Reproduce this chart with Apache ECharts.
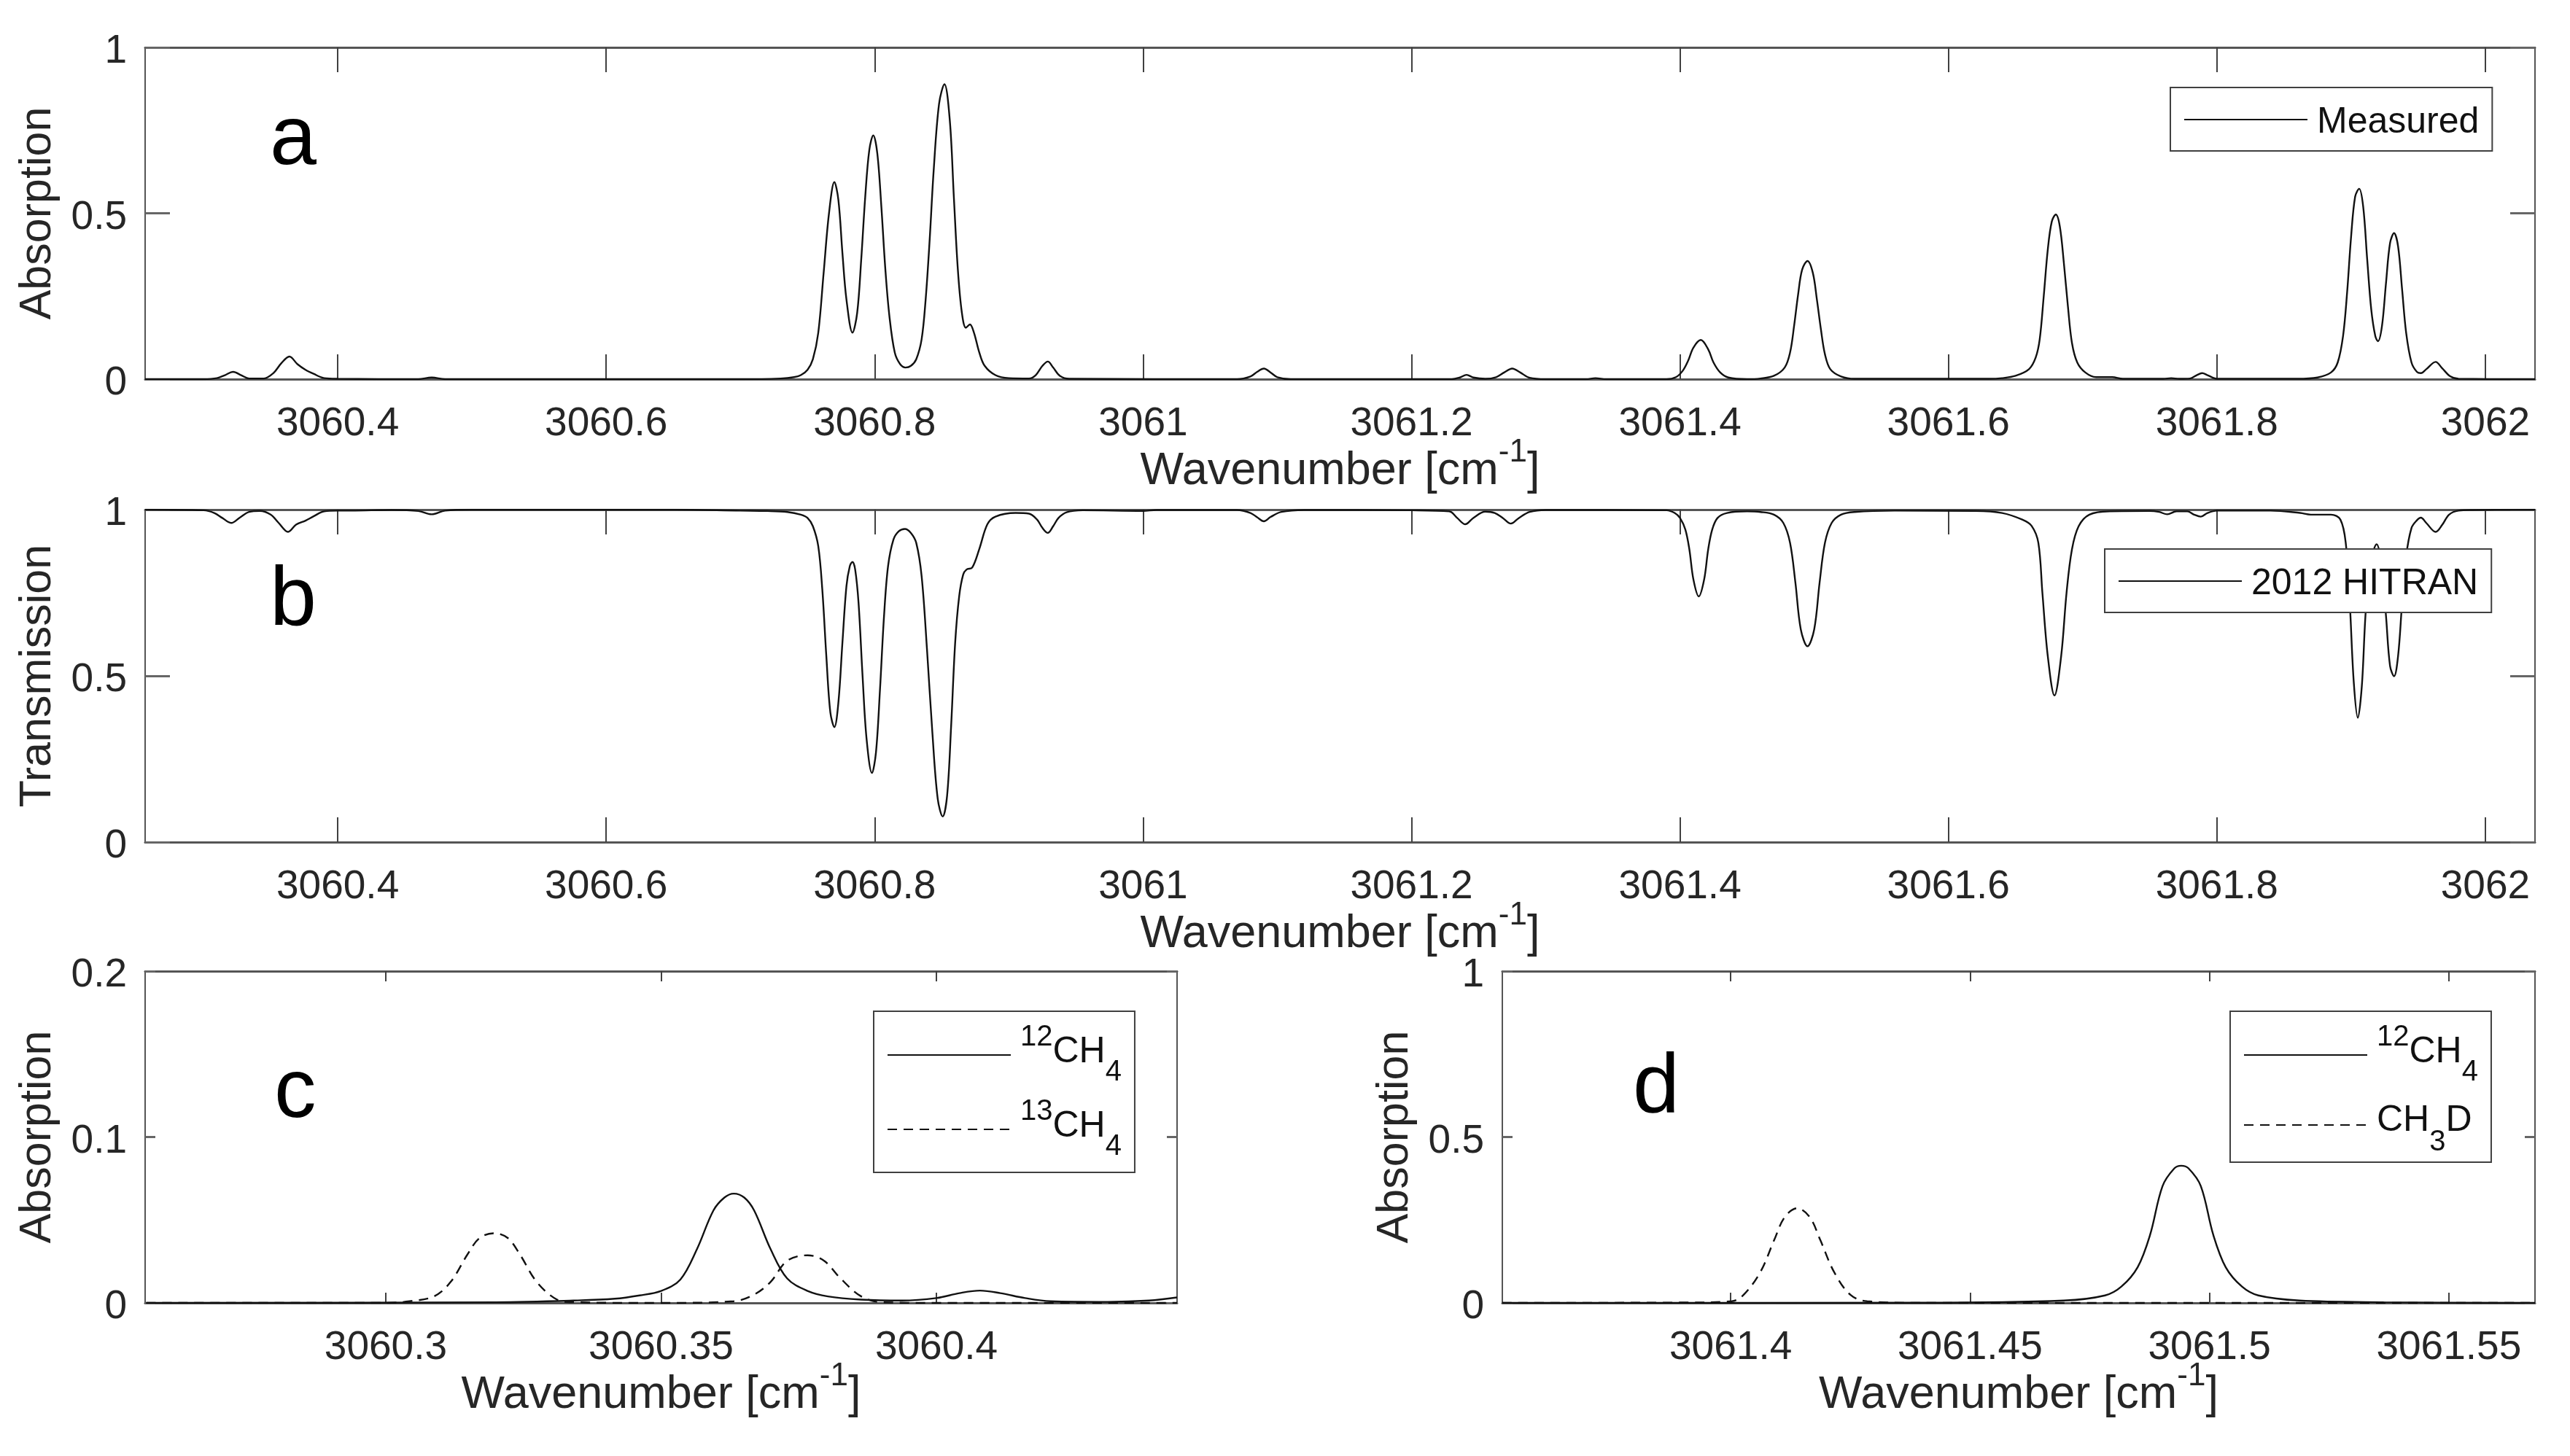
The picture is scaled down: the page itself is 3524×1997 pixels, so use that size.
<!DOCTYPE html>
<html lang="en" style="width: 100%;height:100%">
<head>
<meta charset="UTF-8">
<title>Methane spectra</title>
<script src="https://cdn.jsdelivr.net/npm/echarts@6/dist/echarts.min.js"></script>
</head>
<body style="width: 100%;height:100%;margin:0;background:#fff">
<div id="chart" style="width: 3524px;height:1997px"></div>
<script>
// values
const measuredX = [3060.2565,3060.30,3060.31,3060.316,3060.322,3060.328,3060.334,3060.345,3060.352,3060.358,3060.364,3060.370,3060.376,3060.382,3060.39,3060.40,3060.46,3060.47,3060.48,3060.70,3060.73,3060.74,3060.745,3060.75,3060.754,3060.758,3060.762,3060.766,3060.77,3060.773,3060.776,3060.779,3060.7835,3060.787,3060.79,3060.793,3060.796,3060.799,3060.802,3060.805,3060.808,3060.811,3060.815,3060.819,3060.823,3060.827,3060.831,3060.835,3060.838,3060.841,3060.844,3060.848,3060.852,3060.856,3060.859,3060.862,3060.865,3060.868,3060.871,3060.874,3060.878,3060.882,3060.89,3060.90,3060.915,3060.92,3060.925,3060.929,3060.933,3060.938,3060.945,3061.07,3061.08,3061.085,3061.09,3061.095,3061.10,3061.11,3061.23,3061.236,3061.241,3061.246,3061.255,3061.263,3061.269,3061.275,3061.281,3061.288,3061.30,3061.33,3061.337,3061.345,3061.39,3061.397,3061.402,3061.406,3061.41,3061.4155,3061.421,3061.425,3061.43,3061.436,3061.45,3061.46,3061.47,3061.478,3061.482,3061.485,3061.488,3061.491,3061.495,3061.499,3061.502,3061.505,3061.508,3061.512,3061.52,3061.53,3061.63,3061.64,3061.65,3061.66,3061.665,3061.668,3061.671,3061.674,3061.677,3061.68,3061.683,3061.686,3061.689,3061.692,3061.696,3061.702,3061.71,3061.722,3061.73,3061.76,3061.766,3061.772,3061.78,3061.785,3061.789,3061.793,3061.80,3061.86,3061.875,3061.885,3061.89,3061.894,3061.897,3061.9,3061.903,3061.906,3061.909,3061.912,3061.915,3061.918,3061.92,3061.923,3061.926,3061.929,3061.932,3061.935,3061.938,3061.941,3061.945,3061.949,3061.952,3061.956,3061.963,3061.968,3061.974,3061.98,3062.037];
const measuredY = [0,0,.003,.012,.022,.012,.002,.002,.018,.048,.068,.045,.028,.016,.003,.001,0,.005,0,0,.002,.006,.012,.028,.06,.14,.32,.5,.594,.54,.38,.24,.14,.2,.36,.55,.69,.735,.68,.52,.33,.19,.08,.045,.035,.04,.06,.12,.24,.42,.63,.83,.889,.78,.55,.33,.2,.155,.165,.14,.08,.04,.012,.003,.002,.012,.04,.053,.035,.01,.001,0,.008,.022,.032,.02,.006,0,0,.005,.013,.005,.001,.006,.02,.032,.02,.004,0,0,.003,0,0,.006,.025,.055,.095,.118,.09,.05,.02,.005,0,.002,.01,.035,.08,.16,.255,.33,.356,.32,.24,.15,.075,.03,.008,.001,.001,.003,.01,.03,.065,.12,.25,.39,.475,.496,.46,.35,.22,.11,.05,.02,.006,.006,.001,.001,.003,.001,.002,.012,.018,.012,.001,.001,.005,.02,.05,.13,.26,.43,.55,.574,.52,.36,.21,.13,.114,.16,.29,.41,.44,.4,.27,.14,.05,.022,.018,.03,.052,.032,.008,.001,0];

const hitranX = [3060.2565,3060.30,3060.308,3060.314,3060.3206,3060.327,3060.334,3060.342,3060.35,3060.356,3060.363,3060.369,3060.376,3060.382,3060.39,3060.40,3060.41,3060.44,3060.46,3060.47,3060.48,3060.50,3060.65,3060.70,3060.72,3060.735,3060.745,3060.75,3060.754,3060.758,3060.761,3060.764,3060.767,3060.77,3060.773,3060.776,3060.779,3060.7815,3060.7835,3060.7855,3060.788,3060.791,3060.794,3060.798,3060.801,3060.804,3060.807,3060.81,3060.814,3060.818,3060.8225,3060.827,3060.831,3060.835,3060.839,3060.843,3060.847,3060.8507,3060.854,3060.857,3060.86,3060.863,3060.866,3060.8685,3060.8727,3060.878,3060.884,3060.89,3060.905,3060.915,3060.921,3060.925,3060.929,3060.933,3060.937,3060.943,3060.955,3061,3061.01,3061.07,3061.08,3061.085,3061.09,3061.095,3061.103,3061.12,3061.2,3061.228,3061.234,3061.24,3061.246,3061.255,3061.262,3061.268,3061.274,3061.28,3061.288,3061.30,3061.39,3061.396,3061.40,3061.404,3061.407,3061.41,3061.414,3061.418,3061.421,3061.424,3061.428,3061.435,3061.45,3061.46,3061.47,3061.477,3061.482,3061.486,3061.49,3061.495,3061.5,3061.504,3061.508,3061.513,3061.52,3061.53,3061.56,3061.62,3061.64,3061.655,3061.662,3061.667,3061.67,3061.674,3061.679,3061.684,3061.688,3061.692,3061.697,3061.705,3061.72,3061.75,3061.757,3061.763,3061.77,3061.778,3061.783,3061.788,3061.793,3061.80,3061.84,3061.862,3061.87,3061.885,3061.892,3061.896,3061.899,3061.902,3061.905,3061.908,3061.911,3061.915,3061.919,3061.923,3061.926,3061.929,3061.932,3061.935,3061.938,3061.941,3061.945,3061.949,3061.952,3061.956,3061.963,3061.968,3061.973,3061.98,3061.99,3062.037];
const hitranY = [1,.998,.99,.975,.96,.976,.993,.996,.985,.96,.933,.955,.967,.98,.995,.997,.997,.999,.996,.986,.997,1,1,.997,.996,.993,.985,.975,.95,.89,.76,.56,.39,.346,.42,.6,.77,.83,.843,.82,.72,.5,.31,.208,.27,.46,.68,.83,.91,.935,.942,.93,.9,.8,.58,.33,.13,.077,.14,.35,.6,.74,.805,.82,.826,.882,.956,.979,.99,.988,.97,.945,.93,.95,.975,.992,.998,.996,.999,.999,.99,.977,.965,.978,.993,.999,.998,.995,.975,.956,.975,.994,.99,.975,.958,.975,.993,.999,.998,.99,.975,.94,.88,.79,.739,.79,.88,.94,.975,.99,.995,.993,.985,.96,.9,.78,.64,.589,.64,.78,.9,.96,.985,.993,.997,.996,.99,.97,.951,.9,.75,.56,.441,.56,.75,.88,.95,.985,.995,.996,.993,.986,.995,.995,.985,.979,.99,.997,.997,.99,.985,.985,.97,.9,.72,.48,.374,.47,.7,.85,.896,.82,.68,.53,.499,.56,.72,.86,.945,.968,.976,.96,.933,.955,.985,.997,.999,1];

const c12X = [3060.2565,3060.32,3060.3341,3060.3416,3060.3461,3060.35,3060.3535,3060.3565,3060.3595,3060.3615,3060.3632,3060.3651,3060.3669,3060.3699,3060.3729,3060.3766,3060.3803,3060.3863,3060.3937,3060.4,3060.4042,3060.4079,3060.4116,3060.4161,3060.4207,3060.4311,3060.4386,3060.4437];
const c12Y = [0,.0004,.0014,.0025,.0045,.0072,.0141,.0323,.0557,.0635,.0659,.0635,.0557,.0323,.0147,.0072,.0039,.002,.0014,.0029,.0059,.0074,.0059,.0029,.001,.0006,.0014,.0033];
const c13X = [3060.2565,3060.30,3060.3043,3060.3088,3060.3118,3060.3148,3060.317,3060.3197,3060.3222,3060.3244,3060.3274,3060.3311,3060.3341,3060.35,3060.3632,3060.3669,3060.3699,3060.3729,3060.3766,3060.3796,3060.3826,3060.3863,3060.39,3060.4,3060.4437];
const c13Y = [0,0,.001,.004,.0127,.029,.039,.042,.039,.029,.0127,.002,.0004,0,.001,.005,.0127,.0254,.0287,.0254,.0147,.004,.0004,0,0];

const d12X = [3061.3523,3061.44,3061.4696,3061.4782,3061.4816,3061.485,3061.4876,3061.4902,3061.4927,3061.4941,3061.4956,3061.4982,3061.5008,3061.5034,3061.5068,3061.5102,3061.5188,3061.5364,3061.568];
const d12Y = [0,.0005,.007,.0225,.049,.1075,.205,.352,.406,.4135,.406,.352,.205,.1075,.049,.0225,.007,.002,0];
const dDX = [3061.3523,3061.39,3061.4002,3061.4027,3061.4062,3061.4091,3061.4113,3061.4139,3061.4165,3061.4187,3061.4216,3061.425,3061.4285,3061.44,3061.568];
const dDY = [0,.001,.005,.0244,.093,.19,.259,.2854,.259,.19,.093,.0244,.005,0,0];

const ticksAB = [3060.4,3060.6,3060.8,3061,3061.2,3061.4,3061.6,3061.8,3062];
const ticksC = [3060.3,3060.35,3060.4];
const ticksD = [3061.4,3061.45,3061.5,3061.55];
const xLabel = '{base|Wavenumber [cm}{sup|-1}{base|]}';

const INK = '#262626', LINE = '#111';
const zip = (xs, ys) => xs.map((x, i) => [x, ys[i]]);

const grids = [
    {left: 199, top: 65, width: 3277, height: 455},
    {left: 199, top: 699, width: 3277, height: 456},
    {left: 199, top: 1332, width: 1415, height: 455},
    {left: 2060, top: 1332, width: 1416, height: 455}
];

function xAxes(g, min, max, ticks, tickLen) {
    const line = {onZero: false, lineStyle: {color: '#555', width: 3}};
    const tick = {inside: true, length: tickLen, customValues: ticks, lineStyle: {color: '#404040', width: 2}};
    return [{
        type: 'value', gridIndex: g, min: min, max: max, position: 'bottom',
        splitLine: {show: false}, axisLine: line, axisTick: tick,
        axisLabel: {customValues: ticks, formatter: v => String(v), color: INK, fontSize: 55, margin: 34,
            fontFamily: 'Liberation Sans', hideOverlap: false, showMinLabel: true, showMaxLabel: true},
        name: xLabel, nameLocation: 'middle', nameGap: 79, nameMoveOverlap: false,
        nameTextStyle: {color: INK, fontSize: 63, fontFamily: 'Liberation Sans',
            rich: {
                base: {fontSize: 63, color: INK, fontFamily: 'Liberation Sans', lineHeight: 96},
                sup: {fontSize: 44, color: INK, fontFamily: 'Liberation Sans', verticalAlign: 'top', lineHeight: 40}
            }}
    }, {
        type: 'value', gridIndex: g, min: min, max: max, position: 'top',
        splitLine: {show: false}, axisLine: line, axisTick: tick, axisLabel: {show: false}
    }];
}

function yAxes(g, max, interval, name, tickLen) {
    const line = {onZero: false, lineStyle: {color: '#555', width: 2}};
    const tick = {inside: true, length: tickLen, lineStyle: {color: '#666', width: 3}};
    return [{
        type: 'value', gridIndex: g, min: 0, max: max, interval: interval, position: 'left',
        splitLine: {show: false}, axisLine: line, axisTick: tick,
        axisLabel: {margin: 25, showMinLabel: true, showMaxLabel: true,
            formatter: v => '{v|' + v + '}',
            rich: {v: {color: INK, fontSize: 55, fontFamily: 'Liberation Sans', padding: [12, 0, 0, 0]}}},
        name: name, nameLocation: 'middle', nameGap: 116, nameRotate: 90,
        nameTextStyle: {color: INK, fontSize: 61, fontFamily: 'Liberation Sans'}
    }, {
        type: 'value', gridIndex: g, min: 0, max: max, interval: interval, position: 'right',
        splitLine: {show: false}, axisLine: line, axisTick: tick, axisLabel: {show: false}
    }];
}

function curve(name, g, xs, ys, dashed) {
    return {
        name: name, type: 'line', xAxisIndex: g * 2, yAxisIndex: g * 2,
        data: zip(xs, ys), symbol: 'none', smooth: 0.35, animation: false,
        lineStyle: {color: LINE, width: 2.4, type: dashed ? [13, 9] : 'solid'},
        itemStyle: {color: LINE}
    };
}

const legendFont = {color: '#111', fontFamily: 'Liberation Sans'};
const legendRich = {
    plain: {...legendFont, fontSize: 50, padding: [8, 0, 0, 0]},
    sup: {...legendFont, fontSize: 40, verticalAlign: 'top', lineHeight: 88},
    up: {...legendFont, fontSize: 50, verticalAlign: 'top', lineHeight: 88, padding: [15, 0, 0, 0]},
    upD: {...legendFont, fontSize: 50, verticalAlign: 'top', lineHeight: 88, padding: [13, 0, 0, 0]},
    sub: {...legendFont, fontSize: 40, verticalAlign: 'bottom', lineHeight: 88}
};
const legendText = {
    'Measured': '{plain|Measured}',
    '2012 HITRAN': '{plain|2012 HITRAN}',
    '12CH4': '{sup|12}{up|CH}{sub|4}',
    '13CH4': '{sup|13}{up|CH}{sub|4}',
    'CH3D': '{upD|CH}{sub|3}{upD|D}'
};

function legend(names, left, top, gap, pad) {
    return {
        data: names, left: left, top: top, orient: 'vertical', selectedMode: false,
        itemWidth: 169, itemHeight: 14, itemGap: gap, padding: pad,
        backgroundColor: '#fff', borderColor: '#404040', borderWidth: 2, z: 20,
        itemStyle: {opacity: 0},
        formatter: n => legendText[n],
        textStyle: {padding: [0, 0, 0, 8], rich: legendRich}
    };
}

function letter(text, left, top) {
    return {text: text, left: left, top: top, padding: 0,
        textStyle: {fontSize: 115, fontWeight: 'normal', color: '#000', fontFamily: 'Liberation Sans'}};
}

const option = {
    backgroundColor: '#fff',
    grid: grids,
    title: [letter('a', 370, 136), letter('b', 370, 768), letter('c', 376, 1443), letter('d', 2239, 1436)],
    legend: [
        legend(['Measured'], 2976, 120, 0, [23, 18, 14, 18]),
        legend(['2012 HITRAN'], 2886, 753, 0, [23, 18, 14, 18]),
        legend(['12CH4', '13CH4'], 1198, 1387, 14, [16, 18, 15, 18]),
        legend(['12CH4', 'CH3D'], 3058, 1387, 8, [16, 18, 7, 18])
    ],
    xAxis: [
        ...xAxes(0, 3060.2565, 3062.037, ticksAB, 34),
        ...xAxes(1, 3060.2565, 3062.037, ticksAB, 34),
        ...xAxes(2, 3060.2563, 3060.4437, ticksC, 14),
        ...xAxes(3, 3061.3523, 3061.568, ticksD, 14)
    ],
    yAxis: [
        ...yAxes(0, 1, 0.5, 'Absorption', 34),
        ...yAxes(1, 1, 0.5, 'Transmission', 34),
        ...yAxes(2, 0.2, 0.1, 'Absorption', 14),
        ...yAxes(3, 1, 0.5, 'Absorption', 14)
    ],
    series: [
        curve('Measured', 0, measuredX, measuredY),
        curve('2012 HITRAN', 1, hitranX, hitranY),
        curve('12CH4', 2, c12X, c12Y),
        curve('13CH4', 2, c13X, c13Y, true),
        curve('12CH4', 3, d12X, d12Y),
        curve('CH3D', 3, dDX, dDY, true)
    ]
};

const myChart = echarts.init(document.getElementById('chart'));
myChart.setOption(option);
</script>
</body>
</html>
